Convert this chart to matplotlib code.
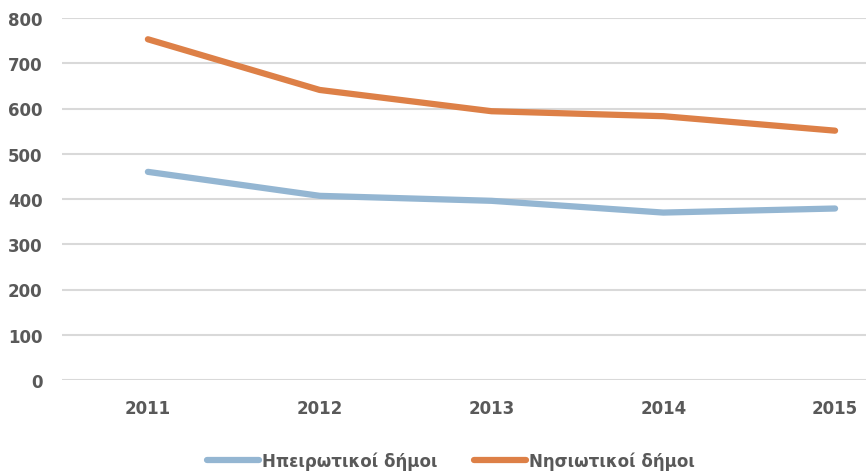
import matplotlib
matplotlib.use("Agg")
import matplotlib.pyplot as plt

plt.rcParams['font.family'] = ['DejaVu Sans']

# Data
years = ["2011", "2012", "2013", "2014", "2015"]
mainland = [460, 407, 396, 370, 379]
islands = [753, 641, 594, 583, 551]
labels = ["Ηπειρωτικοί δήμοι", "Νησιωτικοί δήμοι"]

text_color = "#595959"

fig = plt.figure(figsize=(8.66, 4.77), dpi=100)
ax = fig.add_axes([62 / 866, 96 / 477, 804 / 866, 362 / 477])

x = list(range(len(years)))
ax.plot(x, mainland, color="#94B6D2", lw=4.5, solid_capstyle="round", label=labels[0])
ax.plot(x, islands, color="#DD8047", lw=4.5, solid_capstyle="round", label=labels[1])

ax.set_ylim(0, 800)
ax.set_xlim(-0.5, 4.18)
ax.set_yticks(range(0, 801, 100))
ax.set_xticks(x)
ax.set_xticklabels(years)
ax.yaxis.grid(True, color="#D9D9D9", lw=1.5)
ax.set_axisbelow(True)
for s in ax.spines.values():
    s.set_visible(False)
ax.tick_params(length=0, colors=text_color, labelsize=12)
ax.tick_params(axis="y", pad=14)
ax.tick_params(axis="x", pad=14)
for t in ax.get_xticklabels() + ax.get_yticklabels():
    t.set_fontweight("bold")

fig.legend(loc="center", bbox_to_anchor=(451 / 866, 1 - 462 / 477), ncol=2, frameon=False,
           handlelength=3.1, handletextpad=0.2, columnspacing=2.2,
           prop={"weight": "bold", "size": 12}, labelcolor=text_color)

fig.savefig("out.png", dpi=100)
